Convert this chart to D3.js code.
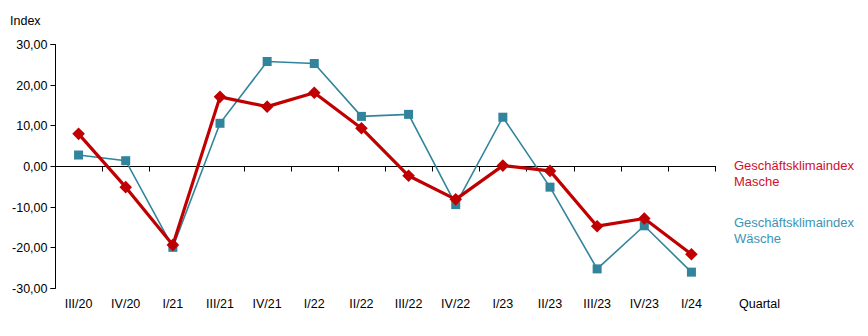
<!DOCTYPE html>
<html><head><meta charset="utf-8">
<script src="https://cdn.jsdelivr.net/npm/d3@7"></script>
<style>body{margin:0;background:#fff}svg{display:block}text{font-family:"Liberation Sans",Arial,sans-serif}</style>
</head><body><svg id="c" width="868" height="336"></svg>
<script>
const categories = ["III/20","IV/20","I/21","III/21","IV/21","I/22","II/22","III/22","IV/22","I/23","II/23","III/23","IV/23","I/24"];
const masche = [7.9,-5.2,-19.4,17.0,14.6,18.0,9.3,-2.4,-8.2,0.1,-1.2,-14.8,-12.9,-21.7];
const waesche = [2.7,1.3,-20.0,10.5,25.7,25.2,12.2,12.7,-9.5,12.0,-5.2,-25.3,-14.7,-26.1];
const yTicks = [-30,-20,-10,0,10,20,30];
const legendLabels = [["Geschäftsklimaindex","Masche"],["Geschäftsklimaindex","Wäsche"]];

const svg = d3.select("#c");
const x = d3.scaleBand().domain(categories).range([55,715]);
const y = d3.scaleLinear().domain([-30,30]).range([288,44]);
const fmt = v => d3.format(".2f")(v).replace(".",",").replace("−","-");
const snap = v => Math.round(v)+0.5;

// y axis
const ya = svg.append("g").attr("transform","translate(55.5,0)")
  .call(d3.axisLeft(y).tickValues(yTicks).tickFormat(fmt).tickSize(5).tickPadding(3));
ya.select(".domain").attr("stroke","#000").attr("d","M-5,"+snap(y(-30))+"H0V"+snap(y(30))+"H-5");
ya.selectAll(".tick").attr("transform",d=>"translate(0,"+snap(y(d))+")");
ya.selectAll("line").attr("stroke","#000");
ya.selectAll("text").attr("font-size","12.5px").attr("fill","#000").attr("font-family","Liberation Sans, Arial, sans-serif");

// x axis at zero
const xa = svg.append("g").attr("transform","translate(0,"+snap(y(0))+")");
xa.append("line").attr("x1",55).attr("x2",716).attr("stroke","#000");
const bounds = categories.map(c=>x(c)+x.bandwidth()).concat([55]);
xa.selectAll("line.t").data(bounds).enter().append("line").attr("class","t")
  .attr("x1",d=>snap(d)).attr("x2",d=>snap(d)).attr("y1",0).attr("y2",5).attr("stroke","#000");
svg.append("g").selectAll("text").data(categories).enter().append("text")
  .attr("x",d=>x(d)+x.bandwidth()/2).attr("y",308).attr("text-anchor","middle")
  .attr("font-size","12.5px").attr("fill","#000").text(d=>d);

svg.append("text").attr("x",10).attr("y",25).attr("font-size","12.5px").text("Index");
svg.append("text").attr("x",739).attr("y",308).attr("font-size","12.5px").text("Quartal");

const cx = (d,i)=>x(categories[i])+x.bandwidth()/2;
const line = d3.line().x(cx).y(d=>y(d));

// Wäsche
const teal = "#31849b";
svg.append("path").datum(waesche).attr("d",line).attr("fill","none").attr("stroke",teal).attr("stroke-width",1.6);
svg.append("g").selectAll("rect").data(waesche).enter().append("rect")
  .attr("x",(d,i)=>cx(d,i)-4.5).attr("y",d=>y(d)-4.5).attr("width",9).attr("height",9).attr("fill",teal);

// Masche
const red = "#c00000";
svg.append("path").datum(masche).attr("d",line).attr("fill","none").attr("stroke",red).attr("stroke-width",3.2).attr("stroke-linejoin","round");
svg.append("g").selectAll("path").data(masche).enter().append("path")
  .attr("d",(d,i)=>{const X=cx(d,i),Y=y(d),r=6.3;return `M${X},${Y-r}L${X+r},${Y}L${X},${Y+r}L${X-r},${Y}Z`;})
  .attr("fill",red);

// legend
const lg = svg.append("g").attr("font-size","13px");
const lcol = ["#d0102a","#3d94b4"];
const ly = [170,227];
legendLabels.forEach((ls,k)=>{
  ls.forEach((t,j)=>lg.append("text").attr("x",734).attr("y",ly[k]+j*16).attr("fill",lcol[k]).text(t));
});
</script></body></html>
